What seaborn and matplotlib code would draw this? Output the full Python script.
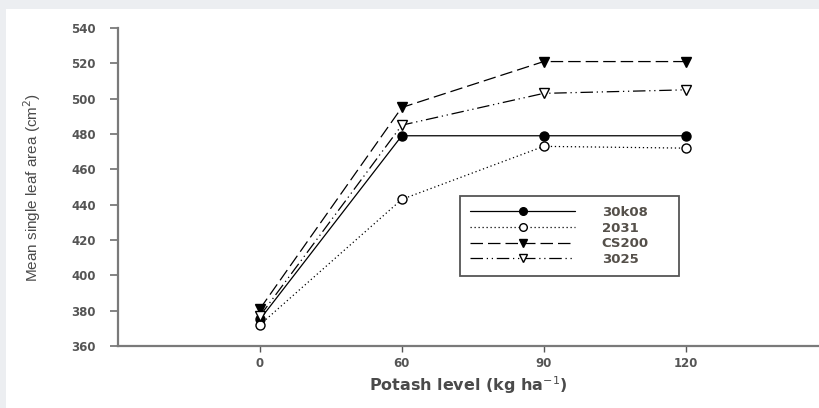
import matplotlib
matplotlib.use("Agg")
import matplotlib.pyplot as plt
import seaborn as sns
import pandas as pd
from matplotlib.patches import Rectangle
from matplotlib.lines import Line2D

levels = ["0", "60", "90", "120"]
v_30k08 = [375, 479, 479, 479]
v_2031 = [372, 443, 473, 472]
v_cs200 = [381, 495, 521, 521]
v_3025 = [377, 485, 503, 505]
series_names = ["30k08", "2031", "CS200", "3025"]
y_ticks = [360, 380, 400, 420, 440, 460, 480, 500, 520, 540]

sns.set_theme(style="white")
plt.rcParams['font.family'] = ['Liberation Sans', 'DejaVu Sans']

fig = plt.figure(figsize=(8.19, 4.08), dpi=100, facecolor="#eceef1")
bg = Rectangle((6/819, 0), 1, 1 - 9/408, transform=fig.transFigure,
               facecolor="white", edgecolor="none", zorder=-10)
fig.add_artist(bg)
ax = fig.add_axes([118/819, 1 - 346/408, 1 - 118/819, (346 - 28)/408])
ax.set_facecolor("none")
ax.set_zorder(1)

rows = []
for name, vals in zip(series_names, [v_30k08, v_2031, v_cs200, v_3025]):
    for i, (lv, v) in enumerate(zip(levels, vals)):
        rows.append({"pos": i, "level": lv, "value": v, "variety": name})
df = pd.DataFrame(rows)

styles = {
    "30k08": dict(ls="-", marker="o", mfc="black"),
    "2031": dict(ls=(0, (1, 2.2)), marker="o", mfc="white"),
    "CS200": dict(ls=(0, (10, 4)), marker="v", mfc="black"),
    "3025": dict(ls=(0, (10, 3, 1, 3, 1, 3)), marker="v", mfc="white"),
}

handles = []
for name in series_names:
    st = styles[name]
    sub = df[df["variety"] == name]
    sns.lineplot(data=sub, x="pos", y="value", ax=ax, color="black", lw=0.9,
                 linestyle=st["ls"], marker=st["marker"], markersize=6.5,
                 markerfacecolor=st["mfc"], markeredgecolor="black",
                 markeredgewidth=1.0, legend=False, zorder=3)
    handles.append(Line2D([], [], color="black", lw=0.9, linestyle=st["ls"],
                          marker=st["marker"], markersize=5.5,
                          markerfacecolor=st["mfc"], markeredgecolor="black",
                          markeredgewidth=1.0))

ax.set_xlim(-1, 3.94)
ax.set_ylim(360, 540)
ax.set_xticks(range(len(levels)))
ax.set_xticklabels(levels)
ax.set_yticks(y_ticks)

for s in ["top", "right"]:
    ax.spines[s].set_visible(False)
for s in ["left", "bottom"]:
    ax.spines[s].set_color("#7a7a7a")
    ax.spines[s].set_linewidth(1.6)

tick_font = dict(family="DejaVu Sans", weight="bold", size=8.5)
ax.tick_params(axis="y", direction="out", length=6, width=1.2, color="#707070",
               labelcolor="#555555", pad=10, left=True)
ax.tick_params(axis="x", direction="out", length=4, width=1.0, color="#555555",
               labelcolor="#555555", pad=4, bottom=True)
for lab in ax.get_xticklabels() + ax.get_yticklabels():
    lab.set_fontproperties(tick_font)

ax.set_xlabel("Potash level (kg ha$^{-1}$)", fontsize=11.5, color="#4a4a4a",
              fontweight="bold", family="DejaVu Sans", labelpad=3)
ax.set_ylabel("Mean single leaf area (cm$^{2}$)", fontsize=11, color="#4a4a4a",
              labelpad=20)

leg = ax.legend(handles, series_names, loc="upper left", mode="expand",
                bbox_to_anchor=(460/819, 1 - 275/408, 219/819, 79/408),
                bbox_transform=fig.transFigure,
                frameon=True, fancybox=False, handlelength=8.0, handletextpad=2.0,
                labelspacing=0.2, borderpad=0.75, borderaxespad=0,
                prop=dict(family="DejaVu Sans", weight="bold", size=9.5))
leg.get_frame().set_edgecolor("#555555")
leg.get_frame().set_linewidth(1.3)
leg.get_frame().set_alpha(1)
for t in leg.get_texts():
    t.set_color("#55504a")

fig.savefig("out.png", dpi=100, facecolor=fig.get_facecolor())
